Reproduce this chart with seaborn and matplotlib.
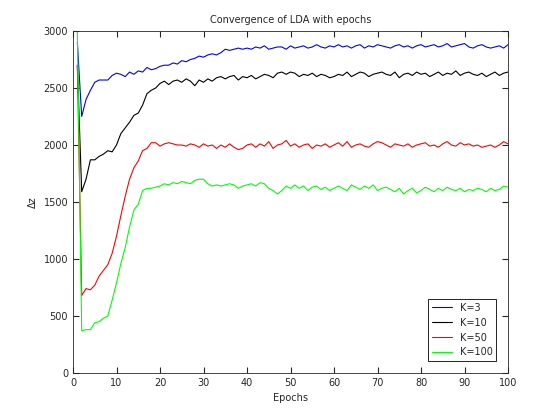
import numpy as np
import pandas as pd
import seaborn as sns
from matplotlib import pyplot as plt

epochs = list(range(1, 101))

k3 = [2900, 2250, 2400, 2480, 2550, 2570, 2570, 2570, 2610, 2630,
      2620, 2600, 2640, 2620, 2650, 2640, 2680, 2660, 2670, 2690,
      2700, 2700, 2720, 2710, 2740, 2730, 2750, 2760, 2780, 2770,
      2790, 2800, 2790, 2810, 2840, 2830, 2840, 2850, 2840, 2850,
      2840, 2860, 2850, 2870, 2840, 2850, 2860, 2860, 2840, 2870,
      2850, 2860, 2870, 2850, 2860, 2880, 2860, 2850, 2870, 2860,
      2880, 2860, 2870, 2850, 2870, 2880, 2850, 2870, 2860, 2880,
      2870, 2860, 2850, 2870, 2880, 2860, 2870, 2850, 2870, 2880,
      2860, 2870, 2880, 2860, 2870, 2890, 2860, 2870, 2880, 2890,
      2860, 2850, 2870, 2880, 2860, 2850, 2860, 2870, 2850, 2880]

k10 = [2700, 1590, 1700, 1870, 1870, 1900, 1920, 1950, 1940, 2000,
       2100, 2150, 2200, 2260, 2280, 2350, 2450, 2480, 2500, 2540,
       2560, 2530, 2560, 2570, 2550, 2580, 2560, 2520, 2570, 2550,
       2580, 2560, 2590, 2600, 2580, 2600, 2610, 2570, 2600, 2590,
       2610, 2580, 2600, 2620, 2610, 2590, 2630, 2640, 2620, 2640,
       2630, 2600, 2620, 2610, 2630, 2600, 2620, 2610, 2590, 2600,
       2620, 2610, 2640, 2600, 2620, 2640, 2630, 2600, 2620, 2630,
       2640, 2620, 2610, 2640, 2590, 2620, 2630, 2610, 2640, 2620,
       2630, 2600, 2620, 2640, 2610, 2630, 2620, 2650, 2610, 2630,
       2640, 2620, 2610, 2630, 2600, 2620, 2640, 2610, 2630, 2640]

k50 = [2700, 680, 740, 730, 770, 850, 900, 950, 1050, 1200,
       1380, 1550, 1700, 1800, 1860, 1950, 1970, 2020, 2020, 1990,
       2010, 2020, 2010, 2000, 2000, 1990, 2010, 2000, 1980, 2010,
       1990, 2000, 1970, 2000, 1980, 2010, 1980, 1960, 1970, 2000,
       2010, 1980, 2010, 1990, 2030, 1970, 2000, 2010, 2040, 1990,
       2010, 1980, 2000, 2010, 1970, 2000, 1990, 2010, 1980, 2000,
       2020, 1990, 2030, 1980, 2000, 2010, 1990, 1980, 2010, 2030,
       2020, 2000, 1980, 2010, 2000, 1990, 2010, 1980, 2000, 2010,
       2020, 1990, 2000, 1980, 2010, 2030, 2000, 1990, 2020, 2000,
       2010, 1990, 2000, 1980, 1990, 2000, 1980, 2000, 2030, 2010]

k100 = [3000, 370, 380, 380, 440, 450, 480, 500, 640, 790,
        960, 1100, 1280, 1430, 1480, 1600, 1620, 1620, 1630, 1640,
        1660, 1650, 1670, 1660, 1680, 1670, 1660, 1690, 1700, 1700,
        1660, 1640, 1650, 1640, 1650, 1660, 1650, 1620, 1640, 1650,
        1660, 1640, 1670, 1660, 1620, 1600, 1570, 1600, 1640, 1620,
        1650, 1620, 1640, 1600, 1630, 1640, 1610, 1630, 1600, 1620,
        1640, 1620, 1600, 1650, 1630, 1610, 1640, 1620, 1650, 1600,
        1620, 1630, 1610, 1590, 1620, 1570, 1600, 1620, 1580, 1600,
        1630, 1610, 1590, 1620, 1600, 1630, 1610, 1600, 1620, 1590,
        1610, 1600, 1620, 1610, 1590, 1620, 1600, 1610, 1640, 1630]

labels = ['K=3', 'K=10', 'K=50', 'K=100']
colors = ['#0000ff', '#000000', '#ff0000', '#00ff00']

df = pd.DataFrame({'Epochs': epochs * 4,
                   'z': k3 + k10 + k50 + k100,
                   'K': sum([[l] * 100 for l in labels], [])})

sns.set_style('ticks')
plt.rcParams['font.family'] = ['DejaVu Sans']
fig = plt.figure(figsize=(5.6, 4.2), dpi=100)
ax = fig.add_axes([73 / 560, 47 / 420, 435 / 560, 342 / 420])
sns.lineplot(data=df, x='Epochs', y='z', hue='K', hue_order=labels,
             palette=colors, linewidth=0.8, ax=ax)
ax.set_xlim(0, 100)
ax.set_ylim(0, 3000)
ax.set_xticks(range(0, 101, 10))
ax.set_yticks(range(0, 3001, 500))
ax.tick_params(direction='in', labelsize=7, top=True, right=True, length=4)
for s in ax.spines.values():
    s.set_linewidth(0.6)
ax.set_xlabel('Epochs', fontsize=7)
ax.set_ylabel('Δz', fontsize=7)
ax.set_title('Convergence of LDA with epochs', fontsize=7)
leg = ax.legend(loc='lower right', fontsize=7, fancybox=False, framealpha=1,
                edgecolor='black', borderaxespad=1.2)
leg.get_frame().set_linewidth(0.6)
fig.savefig('out.png', dpi=100)
